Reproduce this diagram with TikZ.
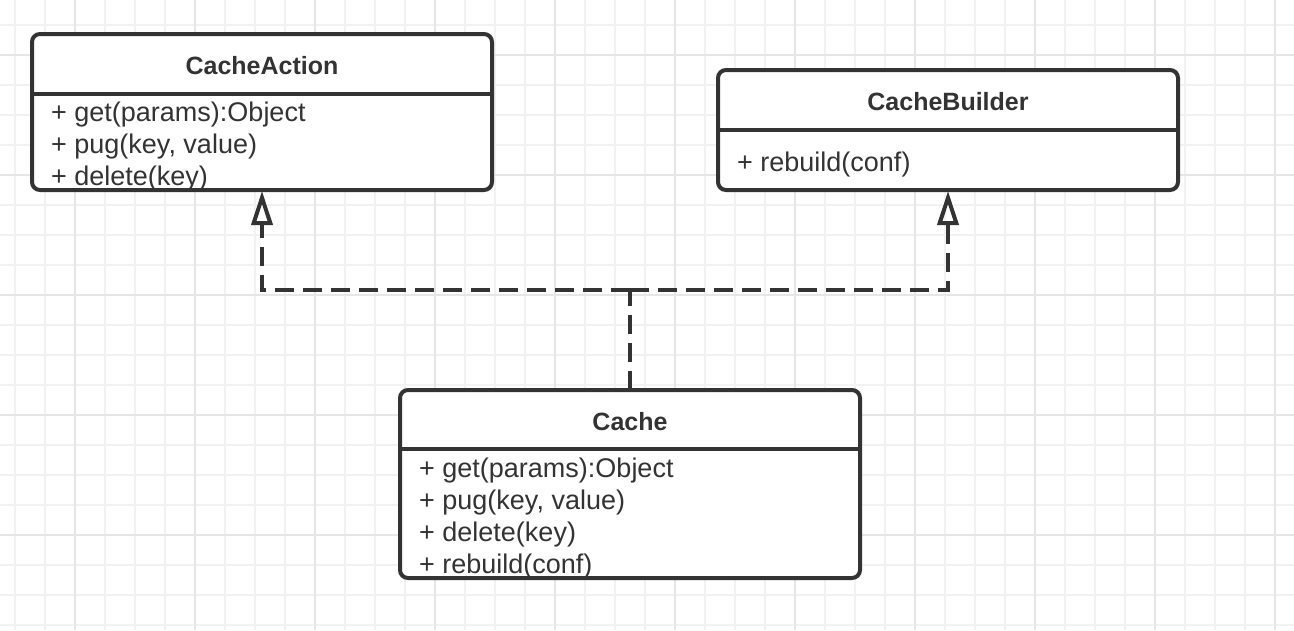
\documentclass[tikz,border=0pt]{standalone}
\usepackage{fontspec}
\setmainfont{Liberation Sans}
\usetikzlibrary{arrows.meta}
\definecolor{GridMinor}{HTML}{F2F2F2}
\definecolor{GridMajor}{HTML}{E6E6E6}
\definecolor{UmlLine}{HTML}{333333}
\definecolor{UmlText}{HTML}{333333}

\begin{document}
\begin{tikzpicture}[x=1pt,y=-1pt,
    classbox/.style={draw=UmlLine,line width=4pt,rounded corners=8pt,fill=white,
      minimum width=460pt,anchor=north west,inner sep=0pt,outer sep=0pt},
    divider/.style={UmlLine,line width=4pt},
    classname/.style={text=UmlText,font=\fontsize{25}{30}\selectfont\bfseries,anchor=base,inner sep=0pt},
    member/.style={text=UmlText,font=\fontsize{27}{32}\selectfont,anchor=base west,inner sep=0pt},
    realize/.style={draw=UmlLine,line width=4pt,dash pattern=on 19pt off 9pt},
    hollow/.style={-{Triangle[open,length=34pt,width=21pt]}}]
  \useasboundingbox (0,0) rectangle (1294,630);
  \fill[white] (0,0) rectangle (1294,630);
  \foreach \x in {15,45,...,1275} \draw[GridMinor,line width=2pt] (\x,0) -- (\x,630);
  \foreach \y in {25,55,...,625} \draw[GridMinor,line width=2pt] (0,\y) -- (1294,\y);
  \foreach \x in {75,195,...,1275} \draw[GridMajor,line width=2pt] (\x,0) -- (\x,630);
  \foreach \y in {55,175,...,535} \draw[GridMajor,line width=2pt] (0,\y) -- (1294,\y);

  \node[classbox,minimum height=156pt] (action) at (32,34) {};
  \draw[divider] (action.west |- 0,94) -- (action.east |- 0,94);
  \node[classname] (actionname) at (262,74) {CacheAction};
  \foreach \m [count=\i] in {{+ get(params):Object},{+ pug(key, value)},{+ delete(key)}}
    \node[member] (actionm\i) at (51,89+32*\i) {\m};

  \node[classbox,minimum height=120pt] (builder) at (718,70) {};
  \draw[divider] (builder.west |- 0,130) -- (builder.east |- 0,130);
  \node[classname] (buildername) at (948,110) {CacheBuilder};
  \node[member] (builderm1) at (737,171) {+ rebuild(conf)};

  \node[classbox,minimum height=188pt] (cache) at (400,390) {};
  \draw[divider] (cache.west |- 0,449) -- (cache.east |- 0,449);
  \node[classname] (cachename) at (630,430) {Cache};
  \foreach \m [count=\i] in {{+ get(params):Object},{+ pug(key, value)},{+ delete(key)},{+ rebuild(conf)}}
    \node[member] (cachem\i) at (419,445+32*\i) {\m};

  \coordinate (join) at (630,290);
  \draw[realize] (cache.north) -- (join);
  \draw[realize,hollow,shorten >=1pt] (join) -| (action.south);
  \draw[realize,hollow,shorten >=1pt] (join) -| (builder.south);
\end{tikzpicture}
\end{document}
